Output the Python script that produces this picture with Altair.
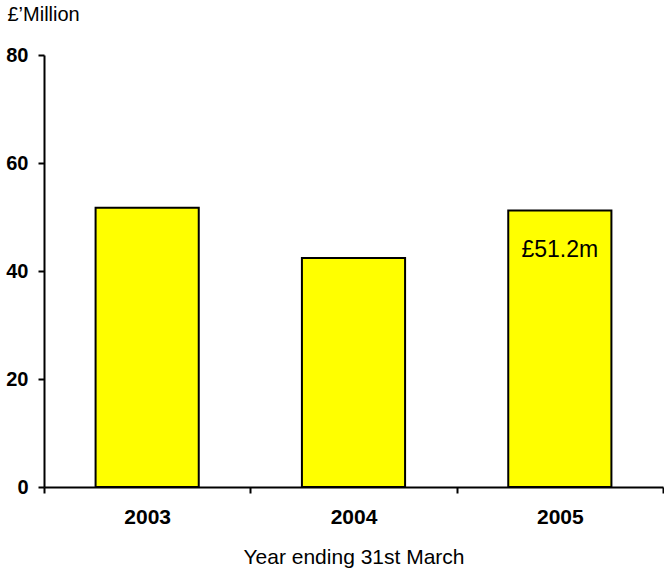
import altair as alt
import pandas as pd

years = ["2003", "2004", "2005"]
values = [51.7, 42.4, 51.2]
label_text = ["", "", "£51.2m"]

df = pd.DataFrame({"year": years, "value": values, "label": label_text})

FONT = "Liberation Sans"

x_enc = alt.X(
    "year:N",
    sort=years,
    scale=alt.Scale(paddingInner=0, paddingOuter=0),
    axis=alt.Axis(
        title="Year ending 31st March",
        titleFont=FONT, titleFontSize=21, titleFontWeight="normal", titleColor="black",
        titlePadding=19,
        labelFont=FONT, labelFontSize=21, labelFontWeight="bold", labelColor="black",
        labelPadding=13, labelAngle=0,
        tickBand="extent", tickSize=6, tickWidth=2, tickColor="black",
        domainColor="black", domainWidth=2,
        grid=False,
    ),
)

y_enc = alt.Y(
    "value:Q",
    scale=alt.Scale(domain=[0, 80]),
    axis=alt.Axis(
        values=[0, 20, 40, 60, 80],
        title="£’Million",
        titleAngle=0, titleAlign="left", titleBaseline="middle",
        titleX=-37, titleY=-41,
        titleFont=FONT, titleFontSize=20, titleFontWeight="normal", titleColor="black",
        labelFont=FONT, labelFontSize=20, labelFontWeight="bold", labelColor="black",
        labelPadding=10,
        tickSize=6, tickWidth=2, tickColor="black",
        domainColor="black", domainWidth=2,
        grid=False,
    ),
)

bars = alt.Chart(df).mark_bar(
    color="#ffff00", stroke="black", strokeWidth=2,
    width=alt.RelativeBandSize(0.5),
).encode(x=x_enc, y=y_enc)

text = alt.Chart(df).mark_text(
    font=FONT, fontSize=23, color="black", baseline="middle", dy=39
).encode(
    x=alt.X("year:N", sort=years),
    y=alt.Y("value:Q"),
    text="label:N",
)

chart = (
    alt.layer(bars, text)
    .properties(
        width=619,
        height=432,
        autosize=alt.AutoSizeParams(type="none"),
        padding={"left": 44, "top": 55, "right": 1, "bottom": 81},
        background="white",
    )
    .configure_view(stroke=None)
)

chart.save("out.html", embed_options={"renderer": "svg", "actions": False})
